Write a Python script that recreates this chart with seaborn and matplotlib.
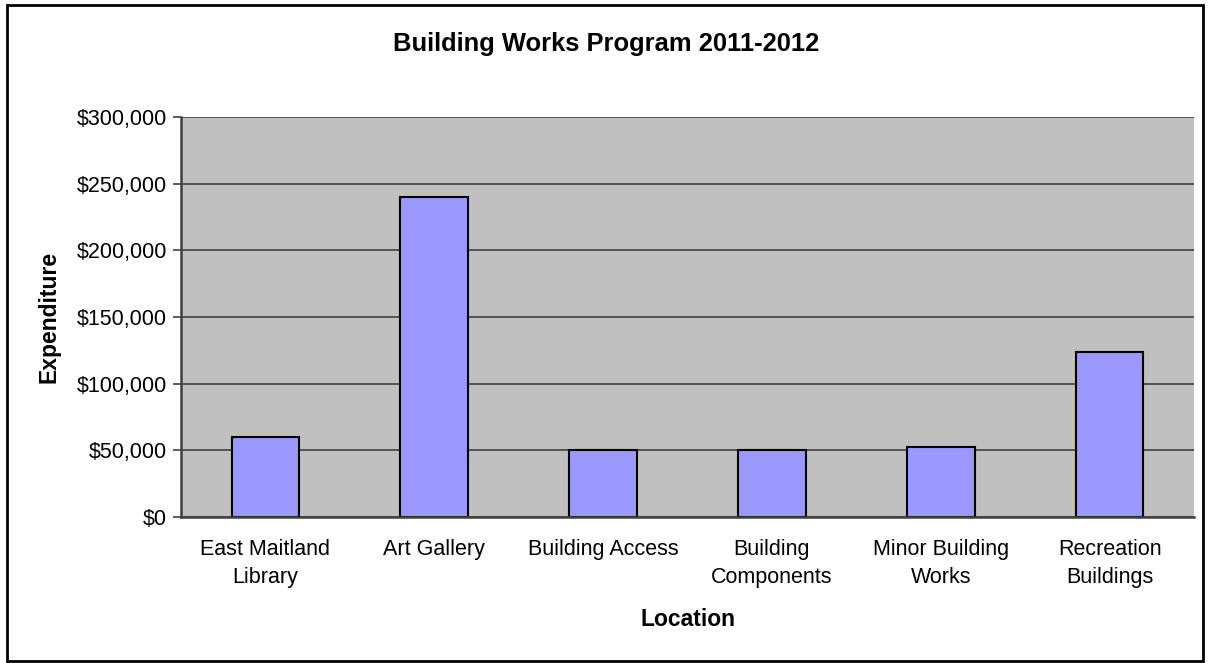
import matplotlib
matplotlib.use("Agg")
import matplotlib.pyplot as plt
import matplotlib.ticker as mticker
from matplotlib.patches import Rectangle
import numpy as np
import pandas as pd
import seaborn as sns

# data
locations = ["East Maitland\nLibrary", "Art Gallery", "Building Access",
             "Building\nComponents", "Minor Building\nWorks", "Recreation\nBuildings"]
expenditure = [60000, 240000, 50000, 50000, 52500, 124000]
y_ticks = [0, 50000, 100000, 150000, 200000, 250000, 300000]

df = pd.DataFrame({"Location": locations, "Expenditure": expenditure})

sns.set_style("white")
plt.rcParams["font.family"] = ["Liberation Sans", "DejaVu Sans"]

fig = plt.figure(figsize=(12.12, 6.63), dpi=100)
ax = fig.add_axes([181 / 1212, 1 - 517 / 663, (1194 - 181) / 1212, (517 - 117) / 663])

sns.barplot(data=df, x="Location", y="Expenditure", color="#9999FF",
            edgecolor="black", linewidth=1.5, width=0.4, saturation=1, ax=ax)

ax.set_facecolor("#C0C0C0")
ax.set_ylim(0, 300000)
ax.set_xlim(-0.5, len(locations) - 0.5)
ax.set_yticks(y_ticks)
ax.yaxis.set_major_formatter(mticker.FuncFormatter(lambda v, p: f"${v:,.0f}"))
ax.yaxis.grid(True, color="#404040", linewidth=1.2)
ax.set_axisbelow(True)

# ticks between categories, labels centred under bars
ax.set_xticks(np.arange(-0.5, len(locations)), minor=True)
ax.tick_params(axis="x", which="major", length=0, pad=16, labelsize=15.5, labelcolor="black")
ax.tick_params(axis="x", which="minor", length=6, width=1.2, color="#404040", direction="out")
ax.tick_params(axis="y", length=6, width=1.2, color="#404040", direction="out",
               left=True, labelsize=15.5, pad=4, labelcolor="black")
for lbl in ax.get_xticklabels():
    lbl.set_linespacing(1.4)

for s in ["top", "right"]:
    ax.spines[s].set_visible(False)
for s in ["left", "bottom"]:
    ax.spines[s].set_color("#404040")
    ax.spines[s].set_linewidth(1.8)

ax.set_xlabel("Location", fontsize=16.5, fontweight="bold", labelpad=15, color="black")
ax.set_ylabel("Expenditure", fontsize=16.5, fontweight="bold", labelpad=12, color="black")
fig.suptitle("Building Works Program 2011-2012", fontsize=18.4, fontweight="bold",
             y=1 - 44 / 663, va="center", color="black")

fig.patches.append(Rectangle((7 / 1212, 2 / 663), 1196 / 1212, 656 / 663,
                             transform=fig.transFigure, fill=False,
                             edgecolor="black", linewidth=2))

fig.savefig("out.png", dpi=100)
